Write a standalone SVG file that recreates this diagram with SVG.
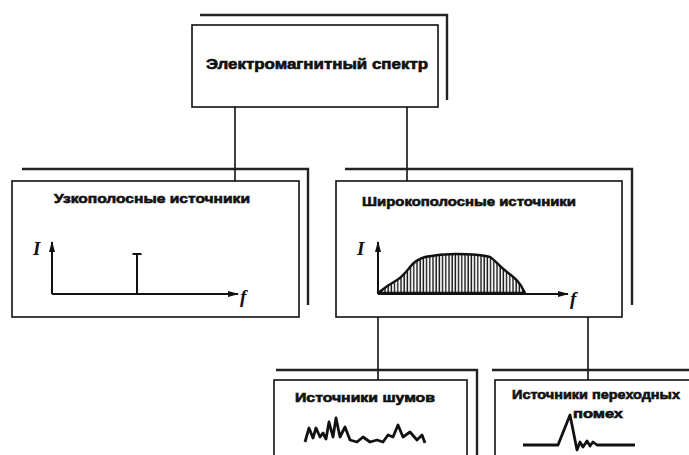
<svg xmlns="http://www.w3.org/2000/svg" width="689" height="455" viewBox="0 0 689 455">
<style>
.box{fill:#fff;stroke:#111;stroke-width:1.6}
.shadow{fill:none;stroke:#222;stroke-width:2.4}
.t{font-family:"Liberation Sans",Arial,sans-serif;font-weight:bold;fill:#111;stroke:#111;stroke-width:0.6;text-anchor:middle}
.ax{fill:none;stroke:#111;stroke-width:2}
.var{font-family:"Liberation Serif","Times New Roman",serif;font-style:italic;font-weight:bold;font-size:19px;fill:#111}
.wave{fill:none;stroke:#111;stroke-width:2.8;stroke-linejoin:round}
.conn{stroke:#111;stroke-width:1.6;fill:none}
</style>
<defs>
<marker id="ah" markerWidth="11" markerHeight="8" refX="10" refY="4" orient="auto" markerUnits="userSpaceOnUse">
<path d="M0,1 L11,4 L0,7 Z" fill="#111"/>
</marker>
<pattern id="hatch" width="3.2" height="10" patternUnits="userSpaceOnUse">
<rect width="3.2" height="10" fill="#fff"/>
<line x1="1" y1="0" x2="1" y2="10" stroke="#111" stroke-width="1.4"/>
</pattern>
</defs>
<rect width="689" height="455" fill="#fff"/>
<g id="connectors">
<line class="conn" x1="235" y1="107" x2="235" y2="181"/>
<line class="conn" x1="407" y1="107" x2="407" y2="181"/>
<line class="conn" x1="378" y1="317" x2="378" y2="380"/>
<line class="conn" x1="588" y1="317" x2="588" y2="380"/>
</g>
<g id="spectrum">
<path class="shadow" d="M200,15 L447,15 L447,100"/>
<rect class="box" x="192" y="25" width="246" height="82"/>
<text class="t" x="317" y="69" font-size="14" textLength="222" lengthAdjust="spacingAndGlyphs">Электромагнитный спектр</text>
</g>
<g id="narrowband">
<path class="shadow" d="M22,169 L308,169 L308,305"/>
<rect class="box" x="12" y="181" width="287" height="136"/>
<text class="t" x="152" y="203" font-size="12.5" textLength="196" lengthAdjust="spacingAndGlyphs">Узкополосные источники</text>
<line class="ax" x1="52" y1="294" x2="52" y2="242" marker-end="url(#ah)"/>
<line class="ax" x1="52" y1="294" x2="238" y2="294" marker-end="url(#ah)"/>
<text class="var" x="33" y="255">I</text>
<text class="var" x="240" y="303">f</text>
<line class="ax" x1="137" y1="294" x2="137" y2="254" stroke-width="2.4"/>
<line class="ax" x1="132.5" y1="254" x2="141.5" y2="254" stroke-width="2.4"/>
</g>
<g id="broadband">
<path class="shadow" d="M345,169 L632,169 L632,305"/>
<rect class="box" x="336" y="181" width="286" height="136"/>
<text class="t" x="469" y="206" font-size="12.5" textLength="214" lengthAdjust="spacingAndGlyphs">Широкополосные источники</text>
<path d="M378,293 C384,288 390,284 397,280 C402,277 405,273 410,267 C414,262 418,259 425,257 C435,255 445,254 455,254 C465,254 480,254 490,257 C495,260 499,266 507,272 C515,278 520,282 525,293 Z" fill="url(#hatch)" stroke="#111" stroke-width="2.4" stroke-linejoin="round"/>
<line class="ax" x1="378" y1="294" x2="378" y2="242" marker-end="url(#ah)"/>
<line class="ax" x1="378" y1="294" x2="568" y2="294" marker-end="url(#ah)"/>
<text class="var" x="357" y="255">I</text>
<text class="var" x="570" y="305">f</text>
</g>
<g id="noise">
<path class="shadow" d="M276,370 L477,370 L477,455"/>
<rect class="box" x="274" y="380" width="193" height="80"/>
<text class="t" x="365" y="402" font-size="12" textLength="140" lengthAdjust="spacingAndGlyphs">Источники шумов</text>
<path class="wave" d="M305,442 L309,428 L313,438 L316,428 L320,437 L323,433 L326,439 L329,422 L333,437 L336,418 L340,437 L345,427 L350,440 L357,442 L363,437 L370,442 L377,440 L383,442 L388,435 L393,437 L398,425 L403,437 L410,432 L417,440 L422,435 L425,443"/>
</g>
<g id="transient">
<path class="shadow" d="M492,370 L689,370"/>
<rect class="box" x="495" y="380" width="200" height="80"/>
<text class="t" x="596" y="399" font-size="12" textLength="168" lengthAdjust="spacingAndGlyphs">Источники переходных</text>
<text class="t" x="598" y="418" font-size="12" textLength="50" lengthAdjust="spacingAndGlyphs">помех</text>
<path class="wave" d="M523,445 L558,445 L570,415 L577,450 L580,442 L583,447 L587,441 L590,446 L593,442 L597,445 L602,445 L635,445"/>
</g>
</svg>
